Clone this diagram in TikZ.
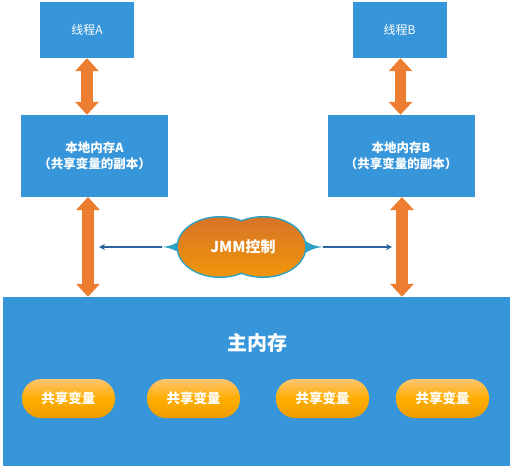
\documentclass[tikz,border=0pt]{standalone}
\usepackage{fontspec}
\setmainfont{Noto Sans CJK SC}
\usetikzlibrary{arrows.meta}
\definecolor{boxblue}{RGB}{55,150,218}
\definecolor{arrorange}{RGB}{237,125,49}
\definecolor{pilltop}{RGB}{255,196,112}
\definecolor{pillmid}{RGB}{255,174,0}
\definecolor{pillbot}{RGB}{236,155,0}
\definecolor{cloudtop}{RGB}{216,116,40}
\definecolor{cloudmid}{RGB}{250,176,0}
\definecolor{cloudbot}{RGB}{240,150,10}
\definecolor{cloudedge}{RGB}{44,162,196}
\definecolor{thinblue}{RGB}{46,100,156}
\begin{document}
\begin{tikzpicture}[x=1pt,y=-1pt,
  box/.style={fill=boxblue, inner sep=0pt, text=white, align=center},
  thread/.style={box, minimum width=94pt, minimum height=56pt, font=\fontsize{12}{14}\selectfont},
  local/.style={box, minimum width=147pt, minimum height=82pt, font=\bfseries\fontsize{12.5}{16}\selectfont},
  pill/.style={rounded corners=19pt, minimum width=93pt, minimum height=39pt, inner sep=0pt,
     top color=pilltop, bottom color=pillbot, middle color=pillmid, text=white,
     font=\bfseries\fontsize{13.5}{15}\selectfont},
  bigarrow/.style={draw=arrorange, line width=11.5pt,
     {Triangle[width=23pt,length=13pt]}-{Triangle[width=23pt,length=13pt]}},
  thinarrow/.style={draw=thinblue, line width=1.1pt, -{Stealth[width=6pt,length=6pt]}},
  tail/.style={fill=cloudedge}
]
\useasboundingbox (0,0) rectangle (512,467);

% boxes
\node[thread] (tA) at (87,30) {线程A};
\node[thread] (tB) at (399.5,30) {线程B};
\node[local] (lA) at (94.5,156) {本地内存A\\（共享变量的副本）};
\node[local] (lB) at (401,156) {本地内存B\\（共享变量的副本）};
\node[box, minimum width=507pt, minimum height=169pt] (main) at (256.5,381.5) {};
\node[text=white, font=\bfseries\fontsize{20}{22}\selectfont] (mtitle) at (257,343) {主内存};

% pills
\node[pill] (p1) at (68.5,398.5) {共享变量};
\node[pill] (p2) at (193.5,398.5) {共享变量};
\node[pill] (p3) at (322.5,398.5) {共享变量};
\node[pill] (p4) at (442.5,398.5) {共享变量};

% big arrows
\draw[bigarrow] (tA.south) -- (tA.south |- lA.north);
\draw[bigarrow] ([xshift=1pt]tB.south) -- ([xshift=1pt]tB.south |- lB.north);
\coordinate (aA) at (88,197);
\coordinate (aB) at (402,197);
\draw[bigarrow] (aA) -- (aA |- main.north);
\draw[bigarrow] (aB) -- (aB |- main.north);

% cloud
\coordinate (jl) at (162,247);
\coordinate (jr) at (323,247);
\coordinate (la) at (99,247);
\coordinate (ra) at (392,247);
\fill[tail] (jl) .. controls (174,246) and (180,241) .. (188,235) -- (188,259) .. controls (180,253) and (174,248) .. (jl);
\fill[tail] (jr) .. controls (311,246) and (305,241) .. (297,235) -- (297,259) .. controls (305,253) and (311,248) .. (jr);
\draw[cloudedge, line width=3pt] (220,247) ellipse [x radius=42, y radius=29.5];
\draw[cloudedge, line width=3pt] (263,247) ellipse [x radius=42, y radius=29.5];
\shade[top color=cloudtop, middle color=cloudmid, bottom color=cloudbot, shading angle=0]
  (220,247) ellipse [x radius=42, y radius=29.5]
  (263,247) ellipse [x radius=42, y radius=29.5];
\node[text=white, font=\bfseries\fontsize{15}{17}\selectfont] (jmm) at (243,247) {JMM控制};

\draw[thinarrow] (jl) -- (la);
\draw[thinarrow] (jr) -- (ra);
\end{tikzpicture}
\end{document}
